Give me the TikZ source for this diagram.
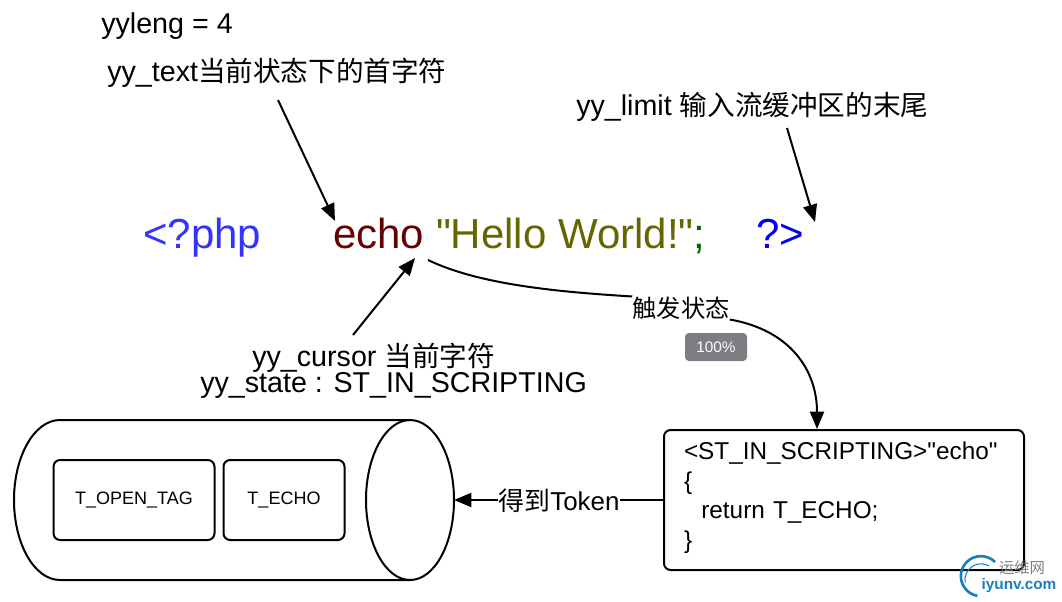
\documentclass[tikz,border=0pt]{standalone}
\usepackage{fontspec}
\setmainfont{Liberation Sans}
\newfontfamily\plainsans{Liberation Sans}
\newfontfamily\cjk{Noto Sans CJK SC}
\newcommand{\notecjk}[1]{{\cjk\fontsize{20.7}{24}\selectfont #1}}
\usepackage{xcolor}
\usetikzlibrary{arrows.meta}
\usetikzlibrary{shapes.geometric}
\definecolor{phpBlue}{rgb}{0.2,0.2,1}
\definecolor{phpKeyword}{rgb}{0.4,0,0}
\definecolor{phpString}{rgb}{0.4,0.4,0}
\definecolor{phpSemi}{rgb}{0,0.4,0}
\definecolor{badgeGray}{rgb}{0.49,0.49,0.51}
\definecolor{markBlue}{rgb}{0.1,0.5,0.75}
\tikzset{
    note/.style={anchor=base west,inner sep=0pt,font=\fontsize{21.5}{24}\selectfont},
    code/.style={anchor=base west,inner sep=0pt,font=\plainsans\fontsize{31.5}{36}\selectfont},
    token/.style={draw,line width=1.5pt,rounded corners=5pt,font=\fontsize{13.5}{16}\selectfont},
    link/.style={line width=1.5pt},
    pointer/.style={link,-{Triangle[length=13pt,width=10.5pt]}},
}
\begin{document}
\begin{tikzpicture}[x=0.75pt,y=-0.75pt]
    \useasboundingbox (0,0) rectangle (1062,602);

    % draw annotations
    \node[note] (leng) at (101,34) {yyleng = 4};
    \node[note] (text) at (107,82) {yy\_text\notecjk{当前状态下的首字符}};
    \node[note] (limit) at (576,116) {yy\_limit \notecjk{输入流缓冲区的末尾}};
    \node[note] (cursor) at (252,366) {yy\_cursor \notecjk{当前字符}};
    \node[note] (state) at (200,392) {yy\_state : ST\_IN\_SCRIPTING};

    % draw source line
    \node[code,text=phpBlue] (open) at (143,248) {<?php};
    \node[code] (echo) at (333,248) {\textcolor{phpKeyword}{echo} \textcolor{phpString}{"Hello World!"}\textcolor{phpSemi}{;}};
    \node[code,text=blue] (close) at (756,248) {?>};

    % draw token cylinder
    \node[ellipse,draw,line width=1.5pt,minimum width=88*0.75pt,minimum height=160*0.75pt,inner sep=0pt,outer sep=0pt] (storeend) at (410,500) {};
    \draw[link] (storeend.north) -- ++(-350,0) arc (270:90:46 and 80) -- (storeend.south);
    \node[token,minimum width=161*0.75pt,minimum height=80*0.75pt] (opentag) at (134,500) {T\_OPEN\_TAG};
    \node[token,minimum width=121*0.75pt,minimum height=80*0.75pt] (echotag) at (284,500) {T\_ECHO};

    % draw rule box
    \node[draw,line width=1.5pt,rounded corners=5pt,minimum width=360*0.75pt,minimum height=140*0.75pt,text width=320*0.75pt,inner sep=0pt,align=left,font=\plainsans\fontsize{18.25}{22.1}\selectfont] (rule) at (844,500) {<ST\_IN\_SCRIPTING>"echo"\\\{\\\hspace*{13pt}return T\_ECHO;\\\}\rule[-7pt]{0pt}{0pt}};

    % draw pointers
    \coordinate (textfoot) at (278,100);
    \coordinate (echotop) at (335,221);
    \coordinate (limitfoot) at (787,128);
    \coordinate (closetop) at (815,222);
    \coordinate (cursorhead) at (353,335);
    \coordinate (echofoot) at (415,258);
    \coordinate (echotail) at (428,260);
    \draw[pointer] (textfoot) -- (echotop);
    \draw[pointer] (limitfoot) -- (closetop);
    \draw[pointer] (cursorhead) -- (echofoot);

    % draw state transition
    \node[inner sep=0pt,font=\cjk\fontsize{18.2}{20}\selectfont] (trigger) at (681,308) {触发状态};
    \draw[link] (echotail) .. controls (480,285) and (560,292) .. (trigger.north west);
    \draw[pointer] (trigger.south east) .. controls (790,330) and (817,370) .. (rule.north -| 817,430);
    \node[fill=badgeGray,text=white,rounded corners=3pt,minimum width=62*0.75pt,minimum height=28*0.75pt,inner sep=0pt,font=\fontsize{11.5}{13}\selectfont] (badge) at (716,347) {100\%};

    % draw token link
    \node[fill=white,inner sep=0pt,font=\fontsize{19.4}{24}\selectfont] (gets) at (559,501) {{\cjk 得到}Token};
    \draw[link] (rule.west) -- (gets.east |- rule.west);
    \draw[pointer] (gets.west |- rule.west) -- (storeend.east);

    % draw site mark
    \draw[markBlue,line width=2pt] (995,562) arc (-45:-260:20);
    \draw[markBlue,line width=0.8pt] (989,566) arc (-60:-190:16);
    \node[inner sep=0pt,text=gray,font=\cjk\fontsize{11.5}{13}\selectfont] (marktop) at (1022,568) {运维网};
    \node[inner sep=0pt,text=markBlue,font=\bfseries\fontsize{11.5}{13}\selectfont] (markname) at (1019,586) {iyunv.com};
\end{tikzpicture}
\end{document}
